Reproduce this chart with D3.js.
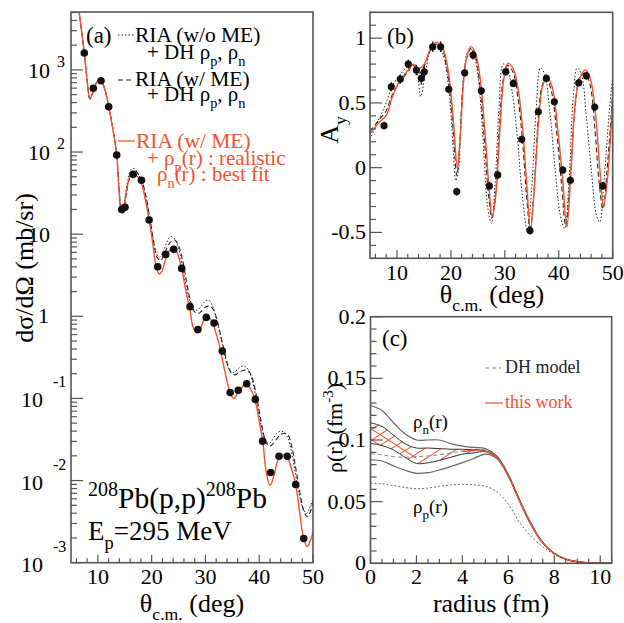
<!DOCTYPE html>
<html>
<head>
<meta charset="utf-8">
<script src="https://cdn.jsdelivr.net/npm/d3@7"></script>
<style>
  html, body { margin: 0; padding: 0; background: #fff; }
  svg text { white-space: pre; font-family: "Liberation Serif", "DejaVu Serif", serif; }
</style>
</head>
<body>
<svg id="fig" width="624" height="623" font-family="Liberation Serif, serif"></svg>
<script>
// ---------- (a) differential cross section, 208Pb(p,p) at 295 MeV ----------
const xsData = [ // [theta_cm (deg), dsigma/dOmega (mb/sr)]
  [7.47,1607],[9.15,597],[10.58,738],[12.01,356],[13.5,91.9],[14.43,20.0],[15.04,21.2],
  [16.55,53.5],[18.1,45.4],[19.53,14.9],[21.12,4.01],[22.6,5.67],[24.1,6.53],[25.58,3.83],
  [27.13,1.31],[28.6,0.692],[30.16,0.97],[31.6,0.826],[33.13,0.377],[34.6,0.118],[36.1,0.126],
  [37.67,0.151],[39.27,0.0973],[40.63,0.0302],[42.13,0.01256],[43.68,0.0198],[45.22,0.0198],
  [46.78,0.00896],[48.27,0.00197]
];
const xsFit = [ // RIA (w/ ME) + realistic rho_p, best-fit rho_n
  [6.0,9000],[7.47,1607],[7.98,754],[8.53,442],[9.09,538],[9.83,713],[10.58,743],[11.32,569],
  [12.01,356],[12.75,196],[13.5,91.9],[13.93,34.5],[14.3,19.1],[14.67,18.1],[15.04,26],
  [15.6,41.9],[16.16,54],[16.71,57],[17.27,51],[18.02,43.1],[18.76,27.5],[19.5,15.3],
  [20.25,7.36],[20.8,4.2],[21.42,3.27],[21.92,3.55],[22.66,5.12],[23.41,6.46],[24.21,6.91],
  [24.9,5.56],[25.58,3.83],[26.38,2.0],[27.13,1.2],[27.68,0.746],[28.48,0.624],[29.17,0.739],
  [29.92,0.951],[30.47,0.977],[31.22,0.874],[31.96,0.624],[32.71,0.41],[33.45,0.24],
  [34.19,0.145],[34.75,0.11],[35.31,0.1],[36.05,0.119],[36.8,0.137],[37.54,0.152],
  [38.28,0.134],[39.21,0.0955],[39.96,0.0545],[40.65,0.0302],[41.26,0.01325],[42.0,0.0087],
  [42.75,0.0115],[43.49,0.0178],[44.42,0.0205],[45.16,0.0195],[45.91,0.0145],[46.78,0.00896],
  [47.58,0.00379],[48.27,0.00197],[48.89,0.00157],[49.44,0.00182],[50.0,0.00234]
];
const xsMeDH = [ // RIA (w/ ME) + DH densities
  [6.0,8900],[7.47,1610],[8.0,753],[8.53,443],[9.09,538],[9.83,713],[10.58,743],[11.32,569],
  [12.01,356],[12.75,196],[13.5,91.8],[13.93,36.3],[14.4,21.4],[14.8,20.9],[15.2,28.2],
  [15.7,43.6],[16.3,56.2],[16.9,60.3],[17.5,53.7],[18.2,44.2],[18.9,29.5],[19.6,16.6],
  [20.3,8.51],[21.0,5.25],[21.6,4.79],[22.2,5.37],[22.9,6.92],[23.6,8.13],[24.3,8.51],
  [25.0,7.24],[25.7,5.01],[26.4,2.82],[27.1,1.66],[27.8,1.17],[28.6,1.08],[29.3,1.16],
  [30.0,1.29],[30.7,1.33],[31.4,1.23],[32.1,0.933],[32.8,0.603],[33.5,0.38],[34.2,0.251],
  [34.9,0.2],[35.6,0.195],[36.3,0.209],[37.0,0.219],[37.7,0.221],[38.4,0.2],[39.1,0.141],
  [39.8,0.0832],[40.5,0.0468],[41.2,0.0302],[41.9,0.0263],[42.6,0.0282],[43.3,0.0324],
  [44.0,0.0363],[44.7,0.0376],[45.4,0.0355],[46.1,0.0251],[46.8,0.0141],[47.5,0.00759],
  [48.2,0.00447],[48.9,0.00363],[49.5,0.00417],[50.0,0.00562]
];
const xsNoMeDH = [ // RIA (w/o ME) + DH densities
  [6.0,8900],[7.47,1620],[8.0,741],[8.5,447],[9.1,537],[9.8,708],[10.5,741],[11.3,575],
  [12.0,363],[12.75,200],[13.5,93.3],[13.9,38],[14.3,22.4],[14.7,21.4],[15.1,29.5],
  [15.6,46.8],[16.2,61.7],[16.8,63.1],[17.4,55],[18.1,44.7],[18.8,30.2],[19.5,17.8],
  [20.2,9.33],[20.9,5.75],[21.5,5.25],[22.1,6.03],[22.8,7.94],[23.5,9.33],[24.2,8.91],
  [24.9,7.08],[25.6,4.47],[26.3,2.51],[27.0,1.58],[27.7,1.23],[28.5,1.19],[29.2,1.32],
  [29.9,1.51],[30.6,1.57],[31.3,1.35],[32.0,0.955],[32.7,0.603],[33.4,0.38],[34.1,0.251],
  [34.8,0.209],[35.5,0.211],[36.2,0.234],[36.9,0.248],[37.6,0.24],[38.3,0.2],[39.0,0.138],
  [39.7,0.0794],[40.4,0.0447],[41.1,0.0316],[41.8,0.0282],[42.5,0.0316],[43.2,0.0372],
  [43.9,0.0398],[44.6,0.0389],[45.3,0.0331],[46.0,0.0224],[46.7,0.0126],[47.4,0.00708],
  [48.1,0.00468],[48.8,0.00398],[49.4,0.00468],[50.0,0.00603]
];
const xsDecades = [-3,-2,-1,0,1,2,3];

// ---------- (b) analyzing power ----------
const ayData = [ // [theta, Ay, error]
  [7.6,0.324,0.03],[8.95,0.625,0.035],[10.62,0.684,0.035],[12.1,0.80,0.035],[13.59,0.754,0.04],
  [14.52,0.69,0.05],[15.07,0.741,0.04],[16.62,0.934,0.04],[18.1,0.934,0.04],[19.6,0.605,0.03],
  [21.08,-0.185,0.03],[22.56,0.733,0.03],[24.1,0.87,0.035],[25.64,0.594,0.03],[27.13,-0.141,0.03],
  [28.68,-0.056,0.035],[30.16,0.741,0.03],[31.57,0.651,0.03],[33.13,0.219,0.03],[34.67,-0.486,0.03],
  [36.21,0.432,0.03],[37.7,0.69,0.03],[39.18,0.509,0.03],[40.74,-0.018,0.03],[42.15,-0.097,0.03],
  [43.7,0.656,0.03],[45.11,0.71,0.03],[46.67,0.468,0.03],[48.15,-0.141,0.03]
];
const ayFit = [
  [5.0,0.26],[6.5,0.34],[8.1,0.41],[9.0,0.53],[10.5,0.67],[12.0,0.75],[13.1,0.80],[14.1,0.765],
  [15.2,0.81],[16.0,0.90],[16.8,0.955],[17.6,0.968],[18.4,0.935],[19.2,0.82],[19.8,0.66],
  [20.5,0.34],[21.2,0.0],[21.7,0.22],[22.3,0.64],[22.9,0.85],[23.7,0.935],[24.5,0.89],
  [25.4,0.70],[26.3,0.28],[27.1,-0.17],[27.65,-0.38],[28.3,-0.22],[29.1,0.30],[29.8,0.68],
  [30.6,0.805],[31.6,0.76],[32.5,0.6],[33.3,0.30],[34.1,-0.15],[34.75,-0.48],[35.4,-0.2],
  [36.3,0.38],[37.0,0.63],[37.8,0.70],[38.8,0.62],[39.8,0.30],[40.7,-0.08],[41.5,-0.46],
  [42.3,0.0],[43.2,0.55],[44.2,0.72],[45.0,0.755],[45.9,0.68],[46.8,0.42],[47.6,0.0],
  [48.3,-0.30],[49.0,-0.1],[50.0,0.55]
];
const ayMeDH = [
  [5.0,0.28],[6.5,0.36],[8.0,0.44],[9.0,0.55],[10.5,0.66],[12.0,0.74],[13.0,0.79],[14.2,0.73],
  [15.0,0.78],[15.8,0.87],[16.6,0.93],[17.4,0.955],[18.3,0.93],[19.1,0.80],[19.8,0.60],
  [20.5,0.25],[21.1,-0.06],[21.6,0.15],[22.2,0.62],[22.9,0.84],[23.7,0.92],[24.5,0.87],
  [25.3,0.66],[26.2,0.22],[27.0,-0.22],[27.6,-0.39],[28.3,-0.2],[29.0,0.32],[29.7,0.68],
  [30.5,0.79],[31.5,0.74],[32.4,0.55],[33.2,0.25],[34.0,-0.2],[34.7,-0.47],[35.4,-0.18],
  [36.2,0.38],[36.9,0.63],[37.7,0.69],[38.7,0.58],[39.6,0.28],[40.5,-0.12],[41.3,-0.45],
  [42.1,-0.1],[43.0,0.45],[43.9,0.70],[44.8,0.73],[45.8,0.64],[46.7,0.3],[47.5,-0.12],
  [48.2,-0.32],[48.9,-0.05],[50.0,0.58]
];
const ayNoMeDH = [
  [5.0,0.22],[6.5,0.36],[7.7,0.47],[9.25,0.64],[10.6,0.72],[12.0,0.78],[13.0,0.79],[13.7,0.74],
  [14.4,0.55],[15.15,0.70],[16.1,0.90],[16.9,0.95],[17.7,0.95],[18.5,0.88],[19.3,0.72],
  [20.0,0.42],[20.5,0.1],[20.9,-0.1],[21.4,-0.02],[21.9,0.40],[22.5,0.76],[23.2,0.90],
  [23.9,0.91],[24.6,0.82],[25.3,0.6],[26.1,0.12],[26.8,-0.3],[27.5,-0.43],[28.2,-0.12],
  [28.9,0.45],[29.7,0.80],[30.4,0.78],[31.3,0.6],[32.3,0.25],[33.2,-0.2],[34.2,-0.49],
  [35.0,-0.15],[35.8,0.45],[36.6,0.77],[37.4,0.72],[38.3,0.45],[39.3,0.0],[40.3,-0.37],
  [41.1,-0.47],[41.9,-0.1],[42.7,0.55],[43.4,0.77],[44.2,0.72],[45.1,0.4],[46.1,-0.05],
  [47.0,-0.37],[47.6,-0.42],[48.4,-0.1],[49.3,0.4],[50.0,0.7]
];
const ayTicks = [-0.5, 0, 0.5, 1];
const thetaTicks = [10, 20, 30, 40, 50];

// ---------- (c) point densities ----------
const radii = [0,0.5,1,1.5,2,2.5,3,3.5,4,4.5,5,5.5,6,6.5,7,7.5,8,8.5,9,9.5,10,10.5];
const rhoOuterUpper = [0.128,0.124,0.114,0.105,0.100,0.100,0.100,0.097,0.095,0.094,0.093,0.087,0.072,0.051,0.032,0.017,0.0082,0.0035,0.0013,0.0004,0.0001,0];
const rhoOuterLower = [0.084,0.083,0.079,0.0755,0.073,0.0735,0.0757,0.0785,0.0816,0.085,0.0886,0.085,0.0705,0.0498,0.0308,0.0163,0.0079,0.0033,0.0012,0.0004,0.0001,0];
const rhoBandUpper  = [0.114,0.111,0.104,0.097,0.0935,0.0935,0.093,0.0925,0.0925,0.092,0.0912,0.086,0.0715,0.0505,0.0315,0.0168,0.0081,0.0034,0.0013,0.0004,0.0001,0];
const rhoBandLower  = [0.0973,0.0955,0.092,0.086,0.081,0.0815,0.0835,0.086,0.0885,0.0895,0.0905,0.0855,0.071,0.050,0.031,0.0165,0.008,0.0033,0.0012,0.0004,0.0001,0];
const rhoNeutronDH  = [0.089,0.088,0.0865,0.086,0.0865,0.087,0.088,0.0895,0.091,0.092,0.092,0.087,0.072,0.051,0.032,0.017,0.0082,0.0035,0.0013,0.0004,0.0001,0];
const rhoProtonDH   = [0.065,0.0645,0.063,0.0615,0.0605,0.061,0.0625,0.0635,0.064,0.0636,0.0625,0.058,0.048,0.033,0.0216,0.0135,0.0072,0.0033,0.0014,0.0005,0.0001,0];
const rhoThisWork   = [null,null,null,null,null,null,null,null,0.0905,0.0915,0.091,0.0858,0.0712,0.0502,0.0312,0.0166,0.008,0.0034,0.0012,0.0004,0.0001,0];
const rhoTicks = [0, 0.05, 0.1, 0.15, 0.2];
const radiusTicks = [0, 2, 4, 6, 8, 10];

// ---------- drawing ----------
const RED = "#f4512c";
const FRAME = "#555";
const FONT = "Liberation Serif";
const svg = d3.select("#fig");
const defs = svg.append("defs");

function txt(parent, x, y, s, size, color, anchor) {
  return parent.append("text").attr("x", x).attr("y", y)
    .attr("font-family", FONT).attr("font-size", size)
    .attr("fill", color || "#000").attr("text-anchor", anchor || "start").text(s);
}

function rich(parent, x, y, parts, size, color, anchor, rotate) {
  const t = parent.append("text")
    .attr("x", x).attr("y", y)
    .attr("font-family", FONT)
    .attr("font-size", size)
    .attr("fill", color || "#000")
    .attr("text-anchor", anchor || "start");
  if (rotate) t.attr("transform", `rotate(${rotate},${x},${y})`);
  let off = 0;
  parts.forEach(([s, kind]) => {
    const target = kind === "sub" ? size * 0.32 : kind === "sup" ? -size * 0.42 : 0;
    const ts = t.append("tspan").text(s).attr("dy", target - off);
    if (kind) ts.attr("font-size", size * 0.68);
    off = target;
  });
  return t;
}

function frame(g, x0, x1, y0, y1) {
  g.append("rect").attr("x", x0).attr("y", y0)
    .attr("width", x1 - x0).attr("height", y1 - y0)
    .attr("fill", "none").attr("stroke", FRAME).attr("stroke-width", 1.6);
}

function xTicks(g, sc, y, majors, minors, lMaj, lMin) {
  majors.forEach(v => g.append("line").attr("x1", sc(v)).attr("x2", sc(v))
    .attr("y1", y).attr("y2", y - lMaj).attr("stroke", FRAME).attr("stroke-width", 1.2));
  minors.forEach(v => g.append("line").attr("x1", sc(v)).attr("x2", sc(v))
    .attr("y1", y).attr("y2", y - lMin).attr("stroke", FRAME).attr("stroke-width", 1.2));
}
function yTicks(g, sc, x, majors, minors, lMaj, lMin) {
  majors.forEach(v => g.append("line").attr("y1", sc(v)).attr("y2", sc(v))
    .attr("x1", x).attr("x2", x + lMaj).attr("stroke", FRAME).attr("stroke-width", 1.2));
  minors.forEach(v => g.append("line").attr("y1", sc(v)).attr("y2", sc(v))
    .attr("x1", x).attr("x2", x + lMin).attr("stroke", FRAME).attr("stroke-width", 1.2));
}
function clip(id, x0, x1, y0, y1) {
  defs.append("clipPath").attr("id", id).append("rect")
    .attr("x", x0).attr("y", y0).attr("width", x1 - x0).attr("height", y1 - y0);
  return `url(#${id})`;
}
function range(a, b, step) {
  const out = [];
  for (let v = a; v <= b + 1e-9; v += step) out.push(+v.toFixed(6));
  return out;
}

// ===== panel (a) =====
{
  const L = 71, R = 313, T = 12, B = 562.7;
  const x = d3.scaleLinear().domain([5, 50]).range([L, R]);
  const y = d3.scaleLog().domain([1e-3, 5070]).range([B, T]);
  const g = svg.append("g");
  const cp = clip("clipA", L, R, T, B);
  const line = d3.line().x(d => x(d[0])).y(d => y(d[1])).curve(d3.curveCatmullRom.alpha(0.5));
  const curves = g.append("g").attr("clip-path", cp);
  curves.append("path").attr("d", line(xsNoMeDH)).attr("fill", "none")
    .attr("stroke", "#222").attr("stroke-width", 1).attr("stroke-dasharray", "1.5,2");
  curves.append("path").attr("d", line(xsMeDH)).attr("fill", "none")
    .attr("stroke", "#222").attr("stroke-width", 1.1).attr("stroke-dasharray", "5,3");
  curves.append("path").attr("d", line(xsFit)).attr("fill", "none")
    .attr("stroke", RED).attr("stroke-width", 1.4);
  curves.selectAll("circle").data(xsData).join("circle")
    .attr("cx", d => x(d[0])).attr("cy", d => y(d[1])).attr("r", 3.8).attr("fill", "#111");

  // ticks
  const minorX = range(6, 50, 2).filter(v => v % 10 !== 0);
  xTicks(g, x, B, thetaTicks, minorX, 8, 4.5);
  const majY = xsDecades.map(e => Math.pow(10, e));
  const minY = [];
  xsDecades.forEach(e => { for (let k = 2; k <= 9; k++) { const v = k * Math.pow(10, e); if (v <= 5070) minY.push(v); } });
  yTicks(g, y, L, majY, minY, 12, 6);
  frame(g, L, R, T, B);

  // tick labels
  thetaTicks.forEach(v => txt(g, x(v), 584, String(v), 22, "#000", "middle"));
  xsDecades.forEach(e => {
    const py = y(Math.pow(10, e));
    if (e === 0) {
      txt(g, 49, py + 7, "1", 22, "#000", "end");
    } else if (e === 1) {
      txt(g, 50, py + 8, "10", 22, "#000", "end");
    } else if (e > 1) {
      txt(g, 50, py + 8, "10", 22, "#000", "end");
      txt(g, 57, py - 3, String(e), 16);
    } else {
      txt(g, 43, py + 9, "10", 22, "#000", "end");
      txt(g, 53, py - 11, "-" + (-e), 16);
    }
  });

  // axis titles
  rich(g, 192, 612, [["θ", ""], ["c.m.", "sub"], [" (deg)", ""]], 26, "#000", "middle");
  rich(g, 33, 268, [["dσ/dΩ (mb/sr)", ""]], 26, "#000", "middle", -90);

  // legend
  txt(g, 86, 43, "(a)", 23);
  g.append("line").attr("x1", 118).attr("x2", 134).attr("y1", 35).attr("y2", 35)
    .attr("stroke", "#222").attr("stroke-dasharray", "1.5,2");
  txt(g, 135, 42, "RIA (w/o ME)", 21.5);
  rich(g, 147, 59, [["+ DH ρ", ""], ["p", "sub"], [", ρ", ""], ["n", "sub"]], 21, "#000");
  g.append("line").attr("x1", 118).attr("x2", 134).attr("y1", 80).attr("y2", 80)
    .attr("stroke", "#222").attr("stroke-dasharray", "5,3");
  txt(g, 135, 86, "RIA (w/ ME)", 21.5);
  rich(g, 147, 101, [["+ DH ρ", ""], ["p", "sub"], [", ρ", ""], ["n", "sub"]], 21, "#000");
  g.append("line").attr("x1", 118).attr("x2", 135).attr("y1", 141).attr("y2", 141)
    .attr("stroke", RED).attr("stroke-width", 1.3);
  txt(g, 136, 148, "RIA (w/ ME)", 21.5, RED);
  rich(g, 147, 165, [["+ ρ", ""], ["p", "sub"], ["(r) : realistic", ""]], 21, RED);
  rich(g, 157, 181, [["ρ", ""], ["n", "sub"], ["(r) : best fit", ""]], 21, RED);

  // reaction label
  rich(g, 88, 508, [["208", "sup"], ["Pb(p,p)", ""], ["208", "sup"], ["Pb", ""]], 29.5, "#000");
  rich(g, 88, 540, [["E", ""], ["p", "sub"], ["=295 MeV", ""]], 27, "#000");
}

// ===== panel (b) =====
{
  const L = 370, R = 612.7, T = 12.3, B = 258.3;
  const x = d3.scaleLinear().domain([5, 50]).range([L, R]);
  const y = d3.scaleLinear().domain([-0.7, 1.2]).range([B, T]);
  const g = svg.append("g");
  const cp = clip("clipB", L, R, T, B);
  const line = d3.line().x(d => x(d[0])).y(d => y(d[1])).curve(d3.curveCatmullRom.alpha(0.5));
  const curves = g.append("g").attr("clip-path", cp);
  curves.append("path").attr("d", line(ayNoMeDH)).attr("fill", "none")
    .attr("stroke", "#222").attr("stroke-width", 1).attr("stroke-dasharray", "1.5,2");
  curves.append("path").attr("d", line(ayMeDH)).attr("fill", "none")
    .attr("stroke", "#222").attr("stroke-width", 1.1).attr("stroke-dasharray", "5,3");
  curves.append("path").attr("d", line(ayFit)).attr("fill", "none")
    .attr("stroke", RED).attr("stroke-width", 1.4);
  curves.selectAll("line.err").data(ayData).join("line").attr("class", "err")
    .attr("x1", d => x(d[0])).attr("x2", d => x(d[0]))
    .attr("y1", d => y(d[1] - d[2])).attr("y2", d => y(d[1] + d[2]))
    .attr("stroke", "#111").attr("stroke-width", 1.3);
  curves.selectAll("circle").data(ayData).join("circle")
    .attr("cx", d => x(d[0])).attr("cy", d => y(d[1])).attr("r", 3.6).attr("fill", "#111");

  xTicks(g, x, B, thetaTicks, range(6, 50, 2).filter(v => v % 10 !== 0), 8, 4.5);
  yTicks(g, y, L, ayTicks, range(-0.7, 1.2, 0.1).filter(v => !ayTicks.some(t => Math.abs(t - v) < 1e-6)), 12, 6);
  frame(g, L, R, T, B);

  thetaTicks.forEach(v => txt(g, x(v), 280, String(v), 22, "#000", "middle"));
  ayTicks.forEach(v => txt(g, 366, y(v) + 7, String(v), 22, "#000", "end"));

  rich(g, 492, 303, [["θ", ""], ["c.m.", "sub"], [" (deg)", ""]], 26, "#000", "middle");
  rich(g, 338, 130, [["A", ""], ["y", "sub"]], 26, "#000", "middle", -90);
  txt(g, 387, 44, "(b)", 23);
}

// ===== panel (c) =====
{
  const L = 370.5, R = 611.7, T = 316.7, B = 563.3;
  const x = d3.scaleLinear().domain([0, 10.5]).range([L, R]);
  const y = d3.scaleLinear().domain([0, 0.2]).range([B, T]);
  const g = svg.append("g");
  const cp = clip("clipC", L, R, T, B);
  const series = vals => radii.map((r, i) => [r, vals[i]]).filter(d => d[1] !== null);
  const line = d3.line().x(d => x(d[0])).y(d => y(d[1])).curve(d3.curveCatmullRom.alpha(0.5));

  // hatch patterns
  const mkPattern = (id, angle) => {
    const p = defs.append("pattern").attr("id", id).attr("patternUnits", "userSpaceOnUse")
      .attr("width", 10).attr("height", 9).attr("patternTransform", `rotate(${angle})`);
    p.append("line").attr("x1", 0).attr("x2", 10).attr("y1", 4.5).attr("y2", 4.5)
      .attr("stroke", RED).attr("stroke-width", 1);
  };
  mkPattern("hatchF", -33);
  mkPattern("hatchB", 33);

  const curves = g.append("g").attr("clip-path", cp);
  const band = radii.map((r, i) => [r, rhoBandLower[i], rhoBandUpper[i]]).filter(d => d[0] <= 5);
  const area = d3.area().x(d => x(d[0])).y0(d => y(d[1])).y1(d => y(d[2])).curve(d3.curveCatmullRom.alpha(0.5));
  curves.append("path").attr("d", area(band)).attr("fill", "url(#hatchF)");
  curves.append("path").attr("d", area(band.filter(d => d[0] <= 2))).attr("fill", "url(#hatchB)");

  curves.append("path").attr("d", line(series(rhoProtonDH))).attr("fill", "none")
    .attr("stroke", "#666").attr("stroke-width", 1).attr("stroke-dasharray", "2,2");
  curves.append("path").attr("d", line(series(rhoNeutronDH))).attr("fill", "none")
    .attr("stroke", "#888").attr("stroke-width", 1).attr("stroke-dasharray", "4,3");
  [rhoOuterUpper, rhoOuterLower].forEach(v => curves.append("path").attr("d", line(series(v)))
    .attr("fill", "none").attr("stroke", "#666").attr("stroke-width", 1.2));
  [rhoBandUpper, rhoBandLower].forEach(v => curves.append("path").attr("d", line(series(v)))
    .attr("fill", "none").attr("stroke", "#333").attr("stroke-width", 1));
  curves.append("path").attr("d", line(series(rhoThisWork))).attr("fill", "none")
    .attr("stroke", RED).attr("stroke-width", 1.3);

  xTicks(g, x, B, radiusTicks, range(0.5, 10.5, 0.5).filter(v => v % 2 !== 0), 8, 4.5);
  yTicks(g, y, L, rhoTicks, range(0.01, 0.2, 0.01).filter(v => !rhoTicks.some(t => Math.abs(t - v) < 1e-6)), 12, 6);
  frame(g, L, R, T, B);

  radiusTicks.forEach(v => txt(g, x(v), 584, String(v), 22, "#000", "middle"));
  rhoTicks.forEach(v => txt(g, 366, y(v) + 7, String(v), 22, "#000", "end"));

  rich(g, 491, 612, [["radius (fm)", ""]], 26, "#000", "middle");
  rich(g, 342, 428, [["ρ(r) (fm", ""], ["-3", "sup"], [")", ""]], 22, "#000", "middle", -90);
  txt(g, 382, 346, "(c)", 23);

  g.append("line").attr("x1", 485).attr("x2", 501).attr("y1", 368).attr("y2", 368)
    .attr("stroke", "#888").attr("stroke-dasharray", "4,3");
  txt(g, 505, 373, "DH model", 18, "#222");
  g.append("line").attr("x1", 485).attr("x2", 503).attr("y1", 403).attr("y2", 403)
    .attr("stroke", RED).attr("stroke-width", 1.3);
  txt(g, 505, 408, "this work", 18, RED);

  rich(g, 413, 428, [["ρ", ""], ["n", "sub"], ["(r)", ""]], 19, "#000");
  rich(g, 413, 513, [["ρ", ""], ["p", "sub"], ["(r)", ""]], 19, "#000");
}
</script>
</body>
</html>
